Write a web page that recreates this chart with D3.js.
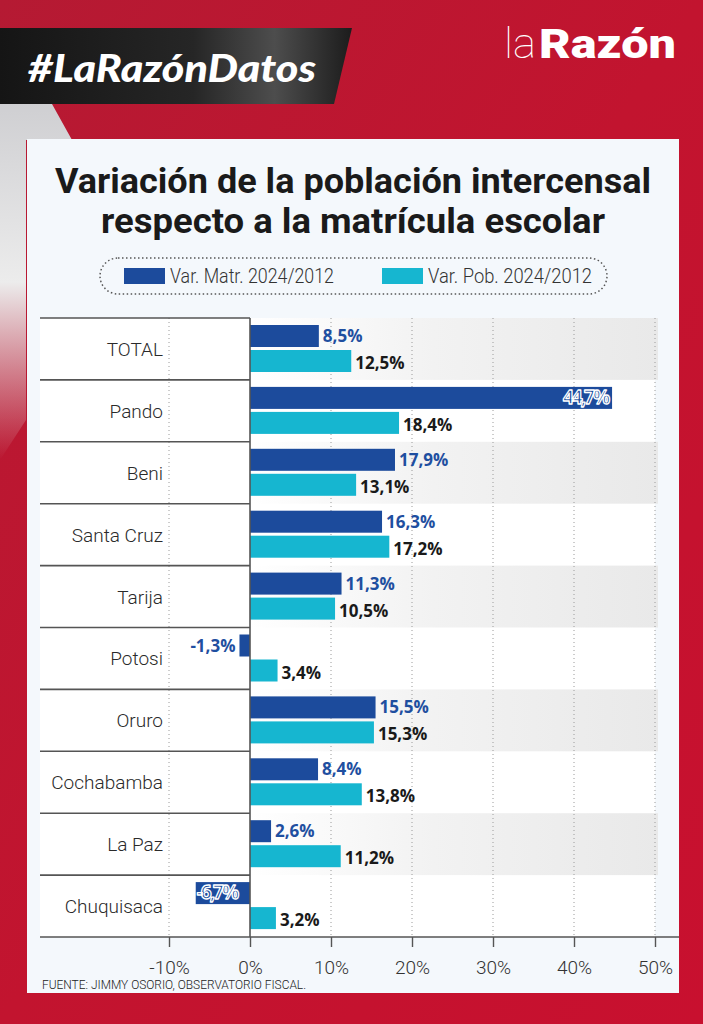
<!DOCTYPE html>
<html>
<head>
<meta charset="utf-8">
<script src="https://cdn.jsdelivr.net/npm/d3@7"></script>
<style>
  html, body { margin: 0; padding: 0; background: #c0152f; }
  svg { display: block; }
</style>
</head>
<body>
<div id="chart"></div>
<script>
// Data
const categories = ['TOTAL', 'Pando', 'Beni', 'Santa Cruz', 'Tarija', 'Potosi', 'Oruro', 'Cochabamba', 'La Paz', 'Chuquisaca'];
const varMatr = [8.5, 44.7, 17.9, 16.3, 11.3, -1.3, 15.5, 8.4, 2.6, -6.7];
const varPob = [12.5, 18.4, 13.1, 17.2, 10.5, 3.4, 15.3, 13.8, 11.2, 3.2];
const seriesNames = ['Var. Matr. 2024/2012', 'Var. Pob. 2024/2012'];
const tickValues = [-10, 0, 10, 20, 30, 40, 50];

const width = 703;
const height = 1024;
const colMatr = '#1c4b9c';
const colPob = '#16b6d0';

const svg = d3.select('#chart')
  .append('svg')
  .attr('width', width)
  .attr('height', height);

const defs = svg.append('defs');

// red background gradient
const bg = defs.append('linearGradient').attr('id', 'bg')
  .attr('x1', 0).attr('y1', 0).attr('x2', 1).attr('y2', 1);
bg.append('stop').attr('offset', 0).attr('stop-color', '#b51a33');
bg.append('stop').attr('offset', 0.5).attr('stop-color', '#c2142f');
bg.append('stop').attr('offset', 1).attr('stop-color', '#c8102f');

const banner = defs.append('linearGradient').attr('id', 'banner')
  .attr('x1', 0).attr('y1', 0).attr('x2', 1).attr('y2', 0);
banner.append('stop').attr('offset', 0).attr('stop-color', '#151515');
banner.append('stop').attr('offset', 0.55).attr('stop-color', '#262626');
banner.append('stop').attr('offset', 0.78).attr('stop-color', '#4d4d4d');
banner.append('stop').attr('offset', 1).attr('stop-color', '#1c1c1c');

const swoosh = defs.append('linearGradient').attr('id', 'swoosh')
  .attr('x1', 0).attr('y1', 0).attr('x2', 0).attr('y2', 1);
swoosh.append('stop').attr('offset', 0).attr('stop-color', '#cfcfd2');
swoosh.append('stop').attr('offset', 0.5).attr('stop-color', '#ececec');
swoosh.append('stop').attr('offset', 1).attr('stop-color', '#e6e6e6').attr('stop-opacity', 0);

const stripe = defs.append('linearGradient').attr('id', 'stripe')
  .attr('x1', 0).attr('y1', 0).attr('x2', 1).attr('y2', 0);
stripe.append('stop').attr('offset', 0).attr('stop-color', '#ffffff');
stripe.append('stop').attr('offset', 0.45).attr('stop-color', '#f2f2f2');
stripe.append('stop').attr('offset', 1).attr('stop-color', '#e9e9e9');

svg.append('rect').attr('width', width).attr('height', height).attr('fill', 'url(#bg)');

// light swoosh at the top-left, under the banner
svg.append('path')
  .attr('d', 'M0,104 L52,104 L72,140 L26,140 L26,420 L0,460 Z')
  .attr('fill', 'url(#swoosh)');

// header banner
svg.append('path')
  .attr('d', 'M0,28 L352,28 L334,104 L0,104 Z')
  .attr('fill', 'url(#banner)');
svg.append('text')
  .attr('x', 28).attr('y', 82)
  .attr('font-family', 'Lato, "Open Sans", sans-serif')
  .attr('font-weight', 900).attr('font-style', 'italic')
  .attr('font-size', 37).attr('fill', '#fff')
  .attr('textLength', 288)
  .attr('lengthAdjust', 'spacingAndGlyphs')
  .text('#LaRazónDatos');

// logo
svg.append('text')
  .attr('x', 504).attr('y', 58)
  .attr('font-family', 'Roboto, sans-serif')
  .attr('font-weight', 100)
  .attr('font-size', 42).attr('fill', '#fff')
  .attr('textLength', 32)
  .attr('lengthAdjust', 'spacingAndGlyphs')
  .text('la');
svg.append('text')
  .attr('x', 539).attr('y', 58)
  .attr('font-family', 'Roboto, sans-serif')
  .attr('font-weight', 900)
  .attr('font-size', 41).attr('fill', '#fff')
  .attr('textLength', 137)
  .attr('lengthAdjust', 'spacingAndGlyphs')
  .text('Razón');

// panel
svg.append('rect')
  .attr('x', 27).attr('y', 139).attr('width', 652).attr('height', 854)
  .attr('fill', '#f4f8fc');

// title
const titleLines = ['Variación de la población intercensal', 'respecto a la matrícula escolar'];
svg.append('g').selectAll('text')
  .data(titleLines)
  .join('text')
  .attr('x', 353)
  .attr('y', (d, i) => 193 + i * 40)
  .attr('text-anchor', 'middle')
  .attr('font-family', 'Roboto, sans-serif')
  .attr('font-weight', 700)
  .attr('font-size', 35)
  .attr('fill', '#1a1a1a')
  .attr('textLength', (d, i) => (i === 0 ? 596 : 504))
  .attr('lengthAdjust', 'spacingAndGlyphs')
  .text((d) => d);

// legend
svg.append('rect')
  .attr('x', 100).attr('y', 258).attr('width', 507).attr('height', 36)
  .attr('rx', 18)
  .attr('fill', 'none')
  .attr('stroke', '#555')
  .attr('stroke-width', 1.5)
  .attr('stroke-dasharray', '1.5,2.5');

const legend = svg.append('g').selectAll('g')
  .data(seriesNames)
  .join('g')
  .attr('transform', (d, i) => `translate(${i === 0 ? 124 : 382},268)`);
legend.append('rect')
  .attr('width', 41).attr('height', 16)
  .attr('fill', (d, i) => (i === 0 ? colMatr : colPob));
legend.append('text')
  .attr('x', 46).attr('y', 15)
  .attr('font-family', 'Roboto, sans-serif')
  .attr('font-weight', 300)
  .attr('font-size', 20)
  .attr('fill', '#333')
  .attr('textLength', 164)
  .attr('lengthAdjust', 'spacingAndGlyphs')
  .text((d) => d);

// scales
const x = d3.scaleLinear().domain([-10, 50]).range([169, 655]);
const y = d3.scaleBand().domain(categories).range([318, 937]);
const x0 = x(0);
const barH = 22;

// rows background
svg.append('rect')
  .attr('x', 40).attr('y', y.range()[0])
  .attr('width', x(50) - 40).attr('height', y.range()[1] - y.range()[0])
  .attr('fill', '#fff');

svg.append('g').selectAll('rect')
  .data(categories.filter((d, i) => i % 2 === 0))
  .join('rect')
  .attr('x', x0)
  .attr('y', (d) => y(d))
  .attr('width', x(50) - x0 + 3)
  .attr('height', y.bandwidth())
  .attr('fill', 'url(#stripe)');

// dotted gridlines
svg.append('g').selectAll('line')
  .data(tickValues.filter((d) => d !== 0))
  .join('line')
  .attr('x1', (d) => x(d)).attr('x2', (d) => x(d))
  .attr('y1', y.range()[0]).attr('y2', y.range()[1])
  .attr('stroke', '#9a9a9a')
  .attr('stroke-width', 1)
  .attr('stroke-dasharray', '1,3');

// row separators in the label column
svg.append('g').selectAll('line')
  .data(categories)
  .join('line')
  .attr('x1', 40).attr('x2', x0)
  .attr('y1', (d) => y(d)).attr('y2', (d) => y(d))
  .attr('stroke', '#555')
  .attr('stroke-width', 1.6);

// category labels
svg.append('g').selectAll('text')
  .data(categories)
  .join('text')
  .attr('x', 163)
  .attr('y', (d) => y(d) + y.bandwidth() / 2 + 7)
  .attr('text-anchor', 'end')
  .attr('font-family', 'Roboto, sans-serif')
  .attr('font-weight', 300)
  .attr('font-size', 19)
  .attr('fill', '#2a2a2a')
  .text((d) => d);

// bars
const rows = categories.map((c, i) => ({ c, m: varMatr[i], p: varPob[i] }));

svg.append('g').selectAll('rect')
  .data(rows)
  .join('rect')
  .attr('x', (d) => x(Math.min(0, d.m)))
  .attr('y', (d) => y(d.c) + 7)
  .attr('width', (d) => Math.abs(x(d.m) - x0))
  .attr('height', barH)
  .attr('fill', colMatr);

svg.append('g').selectAll('rect')
  .data(rows)
  .join('rect')
  .attr('x', (d) => x(Math.min(0, d.p)))
  .attr('y', (d) => y(d.c) + 32)
  .attr('width', (d) => Math.abs(x(d.p) - x0))
  .attr('height', barH)
  .attr('fill', colPob);

// zero line
svg.append('line')
  .attr('x1', x0).attr('x2', x0)
  .attr('y1', y.range()[0]).attr('y2', y.range()[1])
  .attr('stroke', '#555')
  .attr('stroke-width', 1.6);

const fmt = (v) => d3.format('.1f')(v).replace('.', ',').replace('−', '-') + '%';

// value labels: matr (long bars carry an outlined label inside)
svg.append('g').selectAll('text')
  .data(rows)
  .join('text')
  .each(function (d) {
    const t = d3.select(this);
    const inside = Math.abs(d.m) > 40 || d.m < -5;
    let xx;
    let anchor;
    if (d.m >= 0) {
      xx = inside ? x(d.m) - 4 : x(d.m) + 4;
      anchor = inside ? 'end' : 'start';
    } else {
      xx = inside ? x(d.m) + 1 : x(d.m) - 4;
      anchor = inside ? 'start' : 'end';
    }
    t.attr('x', xx).attr('text-anchor', anchor);
    if (inside) {
      t.attr('fill', colMatr).attr('stroke', '#fff').attr('stroke-width', 1.3)
        .attr('stroke-linejoin', 'round')
        .attr('font-size', 19).attr('letter-spacing', -2);
    } else {
      t.attr('fill', '#1f4fa0').attr('font-size', 17);
    }
  })
  .attr('y', (d) => y(d.c) + 7 + 17)
  .attr('font-family', '"Open Sans", sans-serif')
  .attr('font-weight', 700)
  .text((d) => fmt(d.m));

// value labels: pob
svg.append('g').selectAll('text')
  .data(rows)
  .join('text')
  .attr('x', (d) => x(d.p) + 4)
  .attr('y', (d) => y(d.c) + 32 + 19)
  .attr('font-family', '"Open Sans", sans-serif')
  .attr('font-weight', 700)
  .attr('font-size', 17)
  .attr('fill', '#1a1a1a')
  .text((d) => fmt(d.p));

// bottom axis
const axis = svg.append('g')
  .attr('transform', `translate(0,${y.range()[1]})`)
  .call(d3.axisBottom(x).tickValues(tickValues).tickSize(10).tickFormat((d) => d + '%'));
axis.select('.domain').remove();
axis.selectAll('.tick line').attr('stroke', '#555').attr('stroke-width', 1.4);
axis.selectAll('.tick text')
  .attr('y', 24)
  .attr('font-family', 'Roboto, sans-serif')
  .attr('font-weight', 300)
  .attr('font-size', 19)
  .attr('fill', '#333');
svg.append('line')
  .attr('x1', 40).attr('x2', 679)
  .attr('y1', y.range()[1]).attr('y2', y.range()[1])
  .attr('stroke', '#555')
  .attr('stroke-width', 1.4);

// source
svg.append('text')
  .attr('x', 42).attr('y', 989)
  .attr('font-family', 'Roboto, sans-serif')
  .attr('font-weight', 300)
  .attr('font-size', 12)
  .attr('fill', '#222')
  .attr('textLength', 264)
  .attr('lengthAdjust', 'spacingAndGlyphs')
  .text('FUENTE: JIMMY OSORIO, OBSERVATORIO FISCAL.');
</script>
</body>
</html>
